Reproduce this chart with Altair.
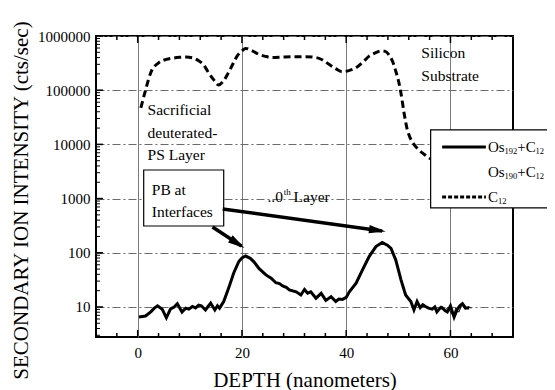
import altair as alt
import pandas as pd

# ---------------- data ----------------
c12_x = [0.6, 1.5, 2.5, 4.0, 5.5, 6.7, 8.0, 9.2, 10.5, 11.7, 12.7, 13.6, 14.6, 15.5, 16.5, 17.4,
         18.3, 19.1, 20.0, 20.7, 22.0, 23.2, 24.5, 25.8, 28.0, 30.0, 32.2, 34.2, 35.5, 36.7, 38.0,
         39.2, 40.5, 41.9, 43.2, 44.4, 45.6, 46.7, 47.5, 48.2, 49.0, 49.6, 50.1, 50.5, 51.1, 51.7,
         52.3, 53.0, 54.0, 55.0, 55.9, 57.0]
c12_y = [47000, 100000, 210000, 320000, 370000, 390000, 405000, 410000, 395000, 350000, 290000,
         210000, 155000, 125000, 150000, 210000, 310000, 430000, 530000, 590000, 530000, 460000,
         420000, 400000, 410000, 415000, 415000, 400000, 360000, 300000, 250000, 220000, 230000,
         260000, 330000, 425000, 490000, 530000, 520000, 450000, 320000, 210000, 140000, 89000,
         38000, 19000, 13000, 10000, 7800, 6500, 5600, 5000]

os192_x = [0.25, 1.5, 2.5, 3.2, 3.8, 4.7, 5.5, 6.3, 7.0, 7.6, 8.5, 9.2, 9.8, 10.5, 11.1, 11.7, 12.2,
           13.0, 13.5, 14.0, 14.8, 15.3, 15.7, 16.5, 17.5, 18.4, 19.4, 20.0, 20.7, 21.6, 22.3, 23.3,
           24.6, 25.6, 26.5, 27.2, 27.8, 28.5, 29.1, 30.4, 31.3, 32.0, 32.6, 33.2, 34.2, 35.2, 36.1,
           37.1, 38.0, 38.6, 39.3, 40.0, 40.6, 41.9, 43.1, 44.4, 45.7, 46.9, 47.9, 48.6, 49.5, 50.5,
           51.4, 52.4, 53.0, 53.6, 54.2, 54.7, 55.2, 55.8, 56.5, 57.0, 57.4, 58.0, 58.4, 59.0, 59.4,
           60.0, 60.7, 61.3, 61.8, 62.3, 62.9, 63.6]
os192_y = [6.5, 6.8, 8.1, 9.5, 10.5, 9.1, 6.3, 9.2, 10.0, 11.5, 8.1, 9.5, 9.1, 10.2, 9.6, 10.8, 10.5,
           8.8, 10.2, 11.8, 8.8, 10.5, 9.5, 12.6, 23, 42, 69, 80, 87, 79, 68, 51, 39, 34, 28, 27,
           24.5, 23, 20.6, 19, 16.6, 21, 18, 19, 14.5, 17.8, 13.2, 15.5, 12.6, 14, 13.8, 15, 19,
           27.5, 48, 85, 130, 155, 138, 120, 74, 32, 16.6, 12.6, 8.8, 12.6, 9.7, 11, 10.2, 9.5, 9.1,
           10, 8.1, 9.5, 9.7, 8.5, 8.1, 10.5, 6.5, 9.0, 10.5, 11.5, 9.6, 9.6]

os190_x = [57.5, 58.2, 58.8, 59.5, 60.2, 60.6, 61.0, 61.6, 62.2, 62.8, 63.4, 64.0]
os190_y = [9.0, 10.5, 8.5, 9.8, 7.5, 6.8, 9.5, 8.0, 11.0, 9.0, 10.2, 9.5]

x_major = [0, 20, 40, 60]
x_minor = [-4, 4, 8, 12, 16, 24, 28, 32, 36, 44, 48, 52, 56, 64, 68]
y_major = [10, 100, 1000, 10000, 100000, 1000000]
y_minor = [m * 10 ** k for k in range(0, 6) for m in range(2, 10) if m * 10 ** k >= 3]

# annotation texts (data coordinates)
ann_text = ["Sacrificial", "deuterated-", "PS Layer", "Silicon", "Substrate",
            "PB at", "Interfaces", "..0", "Layer"]
ann_x = [1.9, 1.9, 1.9, 54.4, 54.4, 2.7, 2.7, 24.9, 29.9]
ann_y = [43000, 16300, 6370, 485000, 183000, 1440, 566, 1070, 1070]

# arrows
arr_x = [14.35, 16.3]
arr_y = [299, 643]
arr_x2 = [19.9, 46.9]
arr_y2 = [133, 252]
arr_angle = [33, 8]

# legend rows
leg_y = [8960, 3100, 1070]
leg_os_sub = ["192", "190"]

FONT = "Liberation Serif"
W, H = 417, 301
FS = 15.5
LFS = 15
SUB = 8.5

xs = alt.Scale(domain=[-8, 72], nice=False, zero=False)
ys = alt.Scale(type="log", domain=[2.79, 1000000], nice=False)

x_axis = alt.Axis(values=x_major, title="DEPTH (nanometers)", labelFont=FONT, labelFontSize=15,
                  labelColor="black", titleFont=FONT, titleFontSize=21, titleFontWeight="normal",
                  titleColor="black", titlePadding=9, labelPadding=8, ticks=False, domain=False,
                  grid=True, gridColor="#7a7a7a", gridWidth=1)
y_axis = alt.Axis(values=y_major, format="d", title="SECONDARY ION INTENSITY (cts/sec)",
                  labelFont=FONT, labelFontSize=15, labelColor="black", titleFont=FONT,
                  titleFontSize=21, titleFontWeight="normal", titleColor="black", titlePadding=6,
                  labelPadding=6, ticks=False, domain=False, grid=True, gridColor="#6a6a6a",
                  gridWidth=1, gridDash=[8, 3, 2, 3], titleY=164)

X = alt.X("x:Q", scale=xs, axis=x_axis)
Y = alt.Y("y:Q", scale=ys, axis=y_axis)

c12 = pd.DataFrame({"x": c12_x, "y": c12_y})
os192 = pd.DataFrame({"x": os192_x, "y": os192_y})
os190 = pd.DataFrame({"x": os190_x, "y": os190_y})

l_c12 = alt.Chart(c12).mark_line(color="black", strokeWidth=3, strokeDash=[7, 4],
                                 interpolate="monotone").encode(x=X, y=Y)
l_192 = alt.Chart(os192).mark_line(color="black", strokeWidth=3).encode(x=X, y=Y)
l_190 = alt.Chart(os190).mark_line(color="black", strokeWidth=1).encode(x=X, y=Y)

# inward ticks
t_xmin_b = alt.Chart(pd.DataFrame({"x": x_minor})).mark_rule(color="black", strokeWidth=1.5).encode(
    x=X, y=alt.value(H), y2=alt.value(H - 4))
t_xmaj_b = alt.Chart(pd.DataFrame({"x": x_major})).mark_rule(color="black", strokeWidth=1.5).encode(
    x=X, y=alt.value(H), y2=alt.value(H - 7))
t_xmin_t = alt.Chart(pd.DataFrame({"x": x_minor})).mark_rule(color="black", strokeWidth=1.5).encode(
    x=X, y=alt.value(0), y2=alt.value(4))
t_xmaj_t = alt.Chart(pd.DataFrame({"x": x_major})).mark_rule(color="black", strokeWidth=1.5).encode(
    x=X, y=alt.value(0), y2=alt.value(7))
t_ymin = alt.Chart(pd.DataFrame({"y": y_minor})).mark_rule(color="black", strokeWidth=1).encode(
    y=Y, x=alt.value(0), x2=alt.value(4))
t_ymaj = alt.Chart(pd.DataFrame({"y": y_major})).mark_rule(color="black", strokeWidth=1.5).encode(
    y=Y, x=alt.value(0), x2=alt.value(7))

# PB box
pb_box = alt.Chart(pd.DataFrame({"x": [1.15], "x2": [16.5], "y": [3370], "y2": [312]})).mark_rect(
    fill="white", stroke="black", strokeWidth=1.2).encode(x=X, x2="x2:Q", y=Y, y2="y2:Q")

ann = pd.DataFrame({"x": ann_x, "y": ann_y, "t": ann_text})
t_ann = alt.Chart(ann).mark_text(font=FONT, fontSize=FS, align="left", baseline="middle",
                                 color="black").encode(x=X, y=Y, text="t:N")
t_th = alt.Chart(pd.DataFrame({"x": [28.0], "y": [1070], "t": ["th"]})).mark_text(
    font=FONT, fontSize=9, align="left", baseline="middle", dy=-5, color="black").encode(
    x=X, y=Y, text="t:N")

arr = pd.DataFrame({"x": arr_x, "y": arr_y, "x2": arr_x2, "y2": arr_y2})
a_lines = alt.Chart(arr).mark_rule(color="black", strokeWidth=3.5).encode(
    x=X, y=Y, x2="x2:Q", y2="y2:Q")
heads = pd.DataFrame({"x": arr_x2, "y": arr_y2, "a": arr_angle})
a_heads = alt.Chart(heads).mark_point(shape="M 0.6 0 L -2.2 -0.7 L -2.2 0.7 Z", filled=True,
                                      color="black", opacity=1, size=144).encode(
    x=X, y=Y, angle=alt.Angle("a:Q", scale=None))

# legend
leg_box = alt.Chart(pd.DataFrame({"x": [56.2], "x2": [95], "y": [18450], "y2": [671]})).mark_rect(
    fill="white", stroke="black", strokeWidth=1.2).encode(x=X, x2="x2:Q", y=Y, y2="y2:Q")
leg_solid = alt.Chart(pd.DataFrame({"x": [58.4], "x2": [66.8], "y": [leg_y[0]]})).mark_rule(
    color="black", strokeWidth=3).encode(x=X, x2="x2:Q", y=Y)
leg_dash = alt.Chart(pd.DataFrame({"x": [58.4], "x2": [66.8], "y": [leg_y[2]]})).mark_rule(
    color="black", strokeWidth=3, strokeDash=[4, 2]).encode(x=X, x2="x2:Q", y=Y)

LX = 67.2
os_rows = pd.DataFrame({"x": [LX, LX], "y": leg_y[:2], "t": ["Os", "Os"], "s": leg_os_sub,
                        "p": ["+C", "+C"], "c": ["12", "12"]})


def txt(df, field, size, dx, dy=0):
    return alt.Chart(df).mark_text(font=FONT, fontSize=size, align="left", baseline="middle",
                                   dx=dx, dy=dy, color="black").encode(x=X, y=Y, text=f"{field}:N")


leg_os = txt(os_rows, "t", LFS, 0)
leg_os_s = txt(os_rows, "s", SUB, 16.6, 4)
leg_os_p = txt(os_rows, "p", LFS, 29.3)
leg_os_c = txt(os_rows, "c", SUB, 47.6, 4)
c_row = pd.DataFrame({"x": [LX], "y": [leg_y[2]], "t": ["C"], "c": ["12"]})
leg_c = txt(c_row, "t", LFS, 0)
leg_c_s = txt(c_row, "c", SUB, 10.0, 4)

chart = alt.layer(
    l_c12, l_192, l_190,
    t_xmin_b, t_xmaj_b, t_xmin_t, t_xmaj_t, t_ymin, t_ymaj,
    pb_box, t_ann, t_th, a_lines, a_heads,
    leg_box, leg_solid, leg_dash, leg_os, leg_os_s, leg_os_p, leg_os_c, leg_c, leg_c_s,
).properties(
    width=W, height=H,
    autosize=alt.AutoSizeParams(type="none"),
    padding={"left": 88, "top": 28, "right": 34, "bottom": 53},
    background="white",
).configure_view(stroke="black", strokeWidth=2)

chart.save("out.html", embed_options={"renderer": "svg", "actions": False})
